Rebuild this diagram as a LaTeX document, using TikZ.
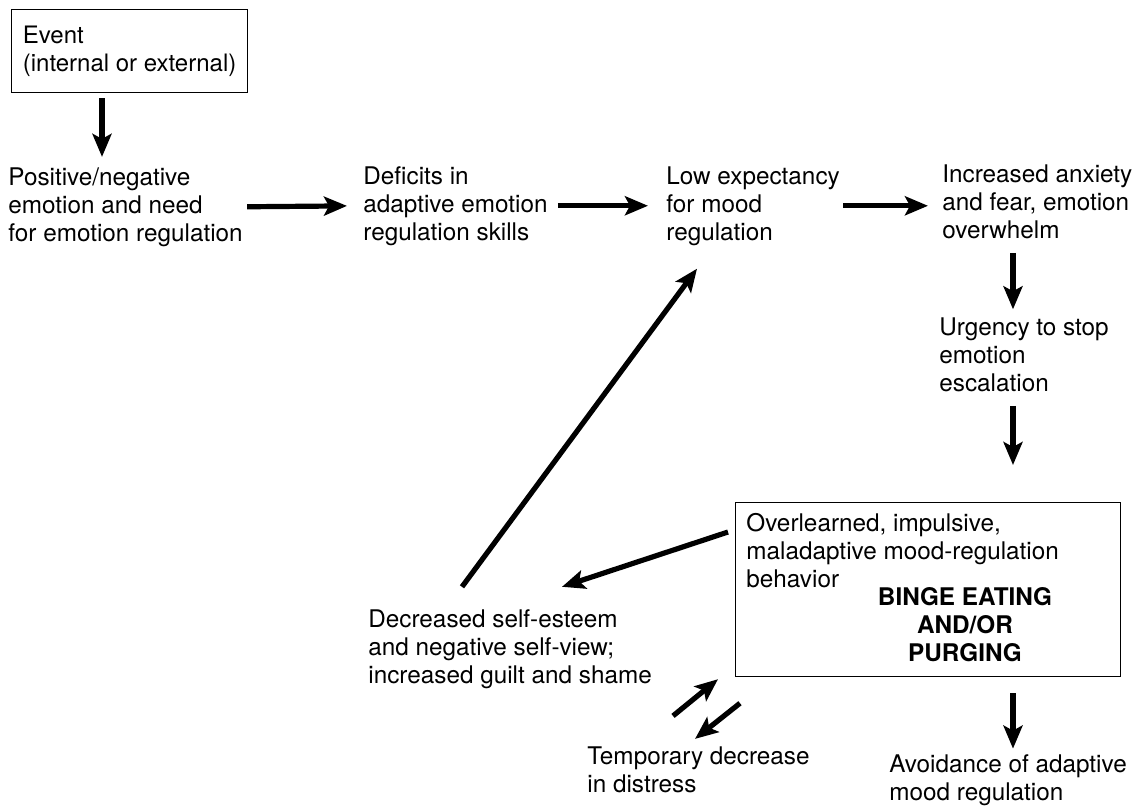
\documentclass[tikz,border=0pt]{standalone}
\usepackage{fontspec}
\setmainfont{TeX Gyre Heros}
\usetikzlibrary{arrows.meta}

\begin{document}
\begin{tikzpicture}[x=0.5pt, y={(0pt,-0.5pt)},
    txt/.style={inner sep=0pt, anchor=base west, align=left, font=\fontsize{12.15pt}{14pt}\selectfont},
    box/.style={draw, line width=0.6pt, rectangle, anchor=north west},
    arr/.style={-{Stealth[length=11.5pt, width=9.5pt, inset=2.5pt]}, line width=2.6pt}]
        \useasboundingbox (0,0) rectangle (1132,811);

        % Event box (top left)
        \node[box, minimum width=118pt, minimum height=41.5pt, align=left, font=\fontsize{12pt}{14pt}\selectfont] (event) at (11,9) {Event\\(internal or external)};

        % Top row (base = last line)
        \node[txt] (need) at (8,241) {Positive/negative\\emotion and need\\for emotion regulation};
        \node[txt] (deficit) at (363,240) {Deficits in\\adaptive emotion\\regulation skills};
        \node[txt] (expect) at (666,240) {Low expectancy\\for mood\\regulation};
        \node[txt] (anxiety) at (942,238) {Increased anxiety\\and fear, emotion\\overwhelm};

        % Right column
        \coordinate (col) at (1013,0);
        \node[txt] (urgency) at (939,391) {Urgency to stop\\emotion\\escalation};
        \node[box, minimum width=192.5pt, minimum height=87pt] (behav) at (735,502) {};
        \node[txt] (overlearn) at (746,587) {Overlearned, impulsive,\\maladaptive mood-regulation\\behavior};
        \node[txt, anchor=base, align=center, font=\fontsize{12.15pt}{14pt}\selectfont\bfseries] (binge) at (965,661) {BINGE EATING\\AND/OR\\PURGING};
        \node[txt] (avoid) at (889,800) {Avoidance of adaptive\\mood regulation};

        % Bottom left
        \node[txt] (selfview) at (368,683) {Decreased self-esteem\\and negative self-view;\\increased guilt and shame};
        \node[txt] (relief) at (587,792) {Temporary decrease\\in distress};

        % Arrows
        \draw[arr] ([shift={(91,5)}]event.south west) -- ([shift={(94,-10)}]need.north west);
        \draw[arr, shorten <=2pt, shorten >=8pt] (need.east) -- (deficit.west);
        \draw[arr, shorten <=5pt, shorten >=9pt] (deficit.east) -- (deficit.east -| expect.west);
        \draw[arr, shorten <=1.5pt, shorten >=7pt] (expect.east) -- (expect.east -| anxiety.west);
        \draw[arr, shorten <=7pt, shorten >=3.8pt] (anxiety.south -| col) -- (urgency.north -| col);
        \draw[arr, shorten <=7pt, shorten >=18.5pt] (urgency.south -| col) -- (behav.north -| col);
        \draw[arr, shorten <=8pt, shorten >=2.6pt] (behav.south -| col) -- (avoid.north -| col);
        \draw[arr] ([shift={(-7,30)}]behav.north west) -- ([shift={(194,-22)}]selfview.north west);
        \draw[arr] ([shift={(94,-22)}]selfview.north west) -- ([shift={(31,23)}]expect.south west);
        \draw[arr] ([shift={(86,-30)}]relief.north west) -- ([shift={(-17,2)}]behav.south west);
        \draw[arr] ([shift={(5,26)}]behav.south west) -- ([shift={(108,-7)}]relief.north west);
    \end{tikzpicture}
\end{document}
